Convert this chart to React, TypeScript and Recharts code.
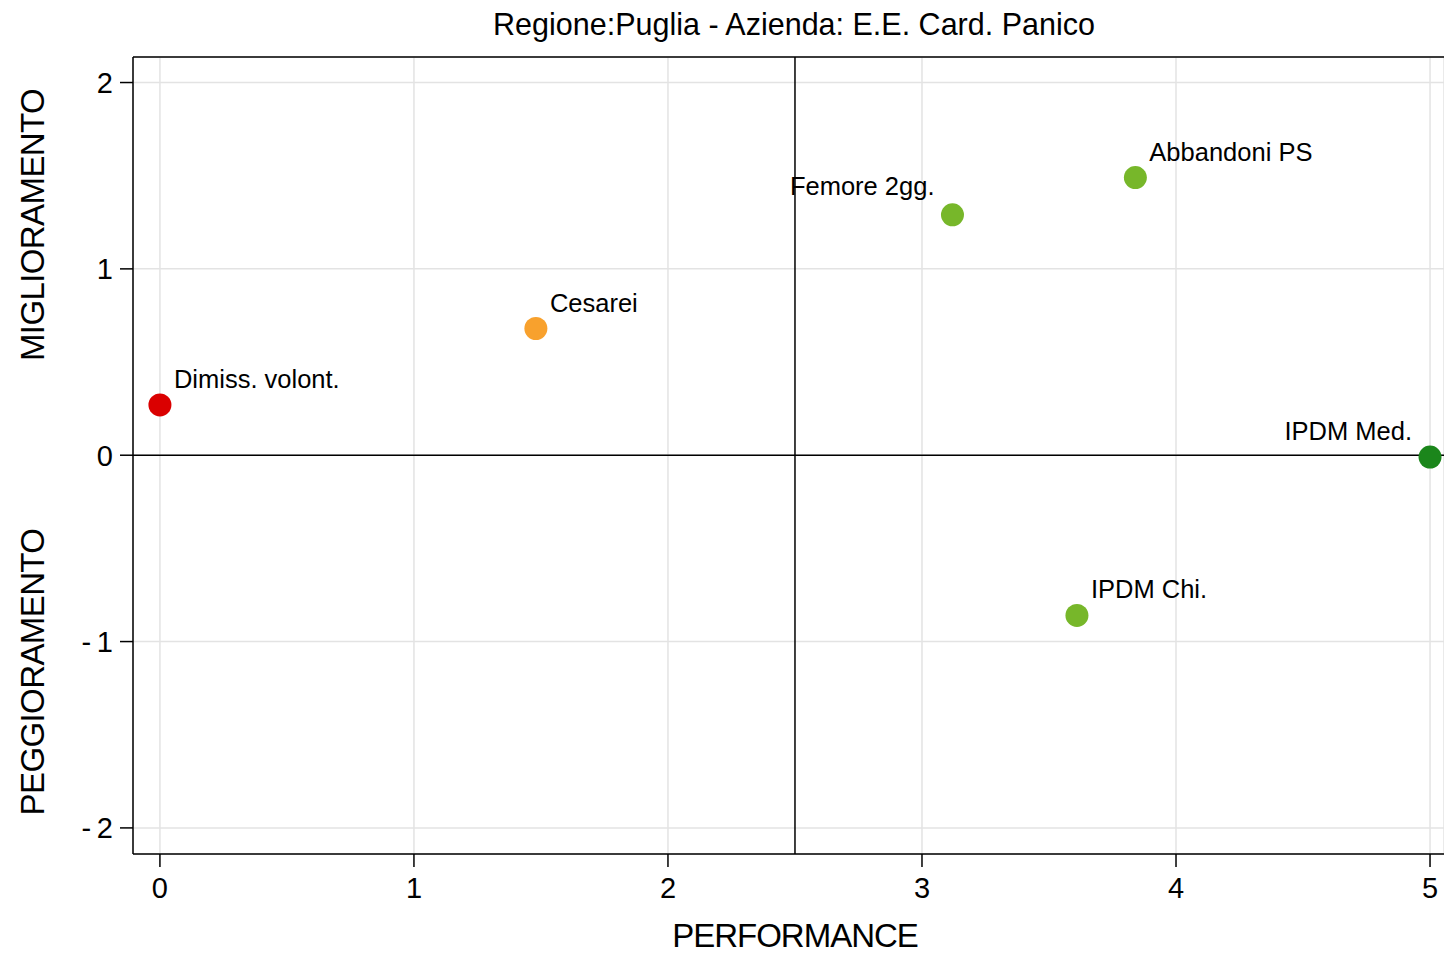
import React from "react";
import { ScatterChart, Scatter, XAxis, YAxis, CartesianGrid, ReferenceLine, Cell } from "recharts";

const names = ["Dimiss. volont.", "Cesarei", "Femore 2gg.", "Abbandoni PS", "IPDM Med.", "IPDM Chi."];
const performance = [0, 1.48, 3.12, 3.84, 5.0, 3.61];
const improvement = [0.27, 0.68, 1.29, 1.49, -0.01, -0.86];
const colors = ["#da0000", "#f8a12d", "#77b72a", "#77b72a", "#1b861b", "#77b72a"];
const leftLabels = ["Femore 2gg.", "IPDM Med."];

const xTicks = [0, 1, 2, 3, 4, 5];
const yTicks = [-2, -1, 0, 1, 2];

const data = names.map((name, i) => ({ name, x: performance[i], y: improvement[i] }));

const FONT = "'Liberation Sans', Arial, Helvetica, sans-serif";
const X_DOMAIN = [-0.106, 5.055];
const Y_DOMAIN = [-2.14, 2.137];

const Dot = (props: any) => {
  const { cx, cy, fill, payload } = props;
  const left = leftLabels.includes(payload.name);
  return (
    <g>
      <circle cx={cx} cy={cy} r={11.5} fill={fill} />
      <text
        x={left ? cx - 18 : cx + 14}
        y={cy - (payload.name === "Femore 2gg." ? 20 : 17)}
        textAnchor={left ? "end" : "start"}
        fontSize={25.5}
        fontFamily={FONT}
        fill="#000"
      >
        {payload.name}
      </text>
    </g>
  );
};

export default function App() {
  return (
    <div style={{ position: "absolute", left: 0, top: 0, width: 1444, height: 954, background: "#fff" }}>
      <ScatterChart width={1444} height={954} margin={{ top: 57, right: 0, bottom: 0, left: 0 }}>
        <CartesianGrid stroke="#e3e3e3" strokeWidth={1.5} />
        <XAxis
          type="number"
          dataKey="x"
          domain={X_DOMAIN}
          ticks={xTicks}
          allowDataOverflow
          height={100}
          tickSize={13}
          tickMargin={10}
          axisLine={{ stroke: "#000", strokeWidth: 1.5 }}
          tickLine={{ stroke: "#000", strokeWidth: 1.5 }}
          tick={{ fontSize: 29, fill: "#000", fontFamily: FONT }}
        />
        <YAxis
          type="number"
          dataKey="y"
          domain={Y_DOMAIN}
          ticks={yTicks}
          allowDataOverflow
          width={133}
          tickSize={13}
          tickMargin={7}
          axisLine={{ stroke: "#000", strokeWidth: 1.5 }}
          tickLine={{ stroke: "#000", strokeWidth: 1.5 }}
          tick={{ fontSize: 29, fill: "#000", fontFamily: FONT }}
          tickFormatter={(v: number) => (v < 0 ? `-\u2009${Math.abs(v)}` : `${v}`)}
        />
        <Scatter data={data} shape={<Dot />} isAnimationActive={false}>
          {data.map((d, i) => (
            <Cell key={d.name} fill={colors[i]} />
          ))}
        </Scatter>
        <ReferenceLine y={Y_DOMAIN[1]} stroke="#000" strokeWidth={1.5} />
        <ReferenceLine x={2.5} stroke="#000" strokeWidth={1.5} />
        <ReferenceLine y={0} stroke="#000" strokeWidth={1.5} />
      </ScatterChart>
      <svg width={1444} height={954} style={{ position: "absolute", left: 0, top: 0, pointerEvents: "none" }}>
        <text x={794} y={35} textAnchor="middle" fontSize={30.5} fontFamily={FONT} fill="#000">
          Regione:Puglia - Azienda: E.E. Card. Panico
        </text>
        <text x={795} y={947} textAnchor="middle" fontSize={33} fontFamily={FONT} fill="#000" letterSpacing={-1}>
          PERFORMANCE
        </text>
        <text
          x={0}
          y={0}
          transform="translate(44 225) rotate(-90)"
          textAnchor="middle"
          fontSize={33}
          fontFamily={FONT}
          fill="#000"
          letterSpacing={-0.6}
        >
          MIGLIORAMENTO
        </text>
        <text
          x={0}
          y={0}
          transform="translate(44 672) rotate(-90)"
          textAnchor="middle"
          fontSize={33}
          fontFamily={FONT}
          fill="#000"
          letterSpacing={-0.6}
        >
          PEGGIORAMENTO
        </text>
      </svg>
    </div>
  );
}
